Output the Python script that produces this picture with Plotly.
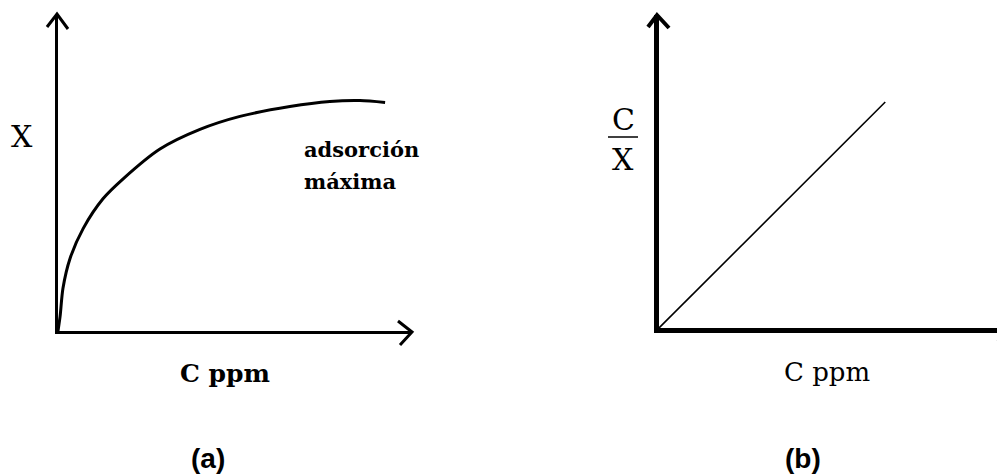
import plotly.graph_objects as go

W, H = 1005, 474
OFF = 8  # the page body keeps its default 8px margin
FW, FH = W - OFF, H - OFF

# (a) isoterma: C ppm vs X
c_a = [0, 0.06, 0.14, 0.34, 0.71, 1.27, 1.84, 2.88, 4.01, 5.14, 6.55, 7.68, 8.53, 9.24]
x_a = [0, 0.47, 1.35, 2.29, 3.23, 4.17, 4.80, 5.74, 6.36, 6.77, 7.08, 7.24, 7.27, 7.21]

# (b) forma lineal: C ppm vs C/X
c_b = [0, 6.67]
cx_b = [0, 7.22]


def pp(x, y):
    # page pixel -> paper
    return (x - OFF) / FW, 1 - (y - OFF) / FH


def chevron(tip, w1, w2, width):
    (tx, ty), (ax, ay), (bx, by) = pp(*tip), pp(*w1), pp(*w2)
    return dict(type="path", xref="paper", yref="paper",
                path=f"M {ax} {ay} L {tx} {ty} L {bx} {by}",
                line=dict(color="black", width=width))


fig = go.Figure()
fig.add_trace(go.Scatter(x=c_a, y=x_a, mode="lines", line=dict(color="black", width=3, shape="spline", smoothing=0.8),
                         xaxis="x", yaxis="y", hoverinfo="skip"))
fig.add_trace(go.Scatter(x=c_b, y=cx_b, mode="lines", line=dict(color="black", width=1.6),
                         xaxis="x2", yaxis="y2", hoverinfo="skip"))

ax_common = dict(showgrid=False, zeroline=False, showticklabels=False, ticks="", showline=True, linecolor="black", fixedrange=True)

fig.update_layout(
    width=FW, height=FH, margin=dict(l=0, r=0, t=0, b=0),
    paper_bgcolor="white", plot_bgcolor="white", showlegend=False,
    xaxis=dict(domain=[pp(58, 0)[0], pp(412, 0)[0]], range=[0, 10], anchor="y", linewidth=3, **ax_common),
    yaxis=dict(domain=[pp(0, 331)[1], pp(0, 14)[1]], range=[0, 10], anchor="x", linewidth=3, **ax_common),
    xaxis2=dict(domain=[pp(659, 0)[0], 1.0], range=[0, 10.2], anchor="y2", linewidth=4.5, **ax_common),
    yaxis2=dict(domain=[pp(0, 328)[1], pp(0, 15)[1]], range=[0, 10], anchor="x2", linewidth=4.5, **ax_common),
)

fig.update_layout(shapes=[
    chevron((57, 14), (47, 27), (68, 29), 3),
    chevron((412, 332), (398, 321), (400, 345), 3),
    chevron((657, 15), (648, 27), (669, 28), 4),
    chevron((1012, 330), (998, 320), (998, 342), 4),
    dict(type="line", xref="paper", yref="paper",
         x0=pp(608, 0)[0], x1=pp(638, 0)[0], y0=pp(0, 137)[1], y1=pp(0, 137)[1],
         line=dict(color="black", width=1.5)),
])

serif = "DejaVu Serif"
sans = "Liberation Sans"


def label(text, x, y, size, family, bold=False, xanchor="center"):
    px_, py_ = pp(x, y)
    t = f"<b>{text}</b>" if bold else text
    fig.add_annotation(text=t, x=px_, y=py_, xref="paper", yref="paper", showarrow=False,
                       xanchor=xanchor, yanchor="middle",
                       font=dict(family=family, size=size, color="black"))


label("X", 22, 136, 30, serif)
label("adsorción", 302, 149, 21, serif, bold=True, xanchor="left")
label("máxima", 302, 181, 21, serif, bold=True, xanchor="left")
label("C ppm", 225, 373, 25, serif, bold=True)
label("(a)", 208, 458, 28, sans, bold=True)

label("C", 623, 119, 30, serif)
label("X", 623, 160, 30, serif)
label("C ppm", 827, 372, 26, serif)
label("(b)", 803, 458, 28, sans, bold=True)

fig.write_html("out.html")
